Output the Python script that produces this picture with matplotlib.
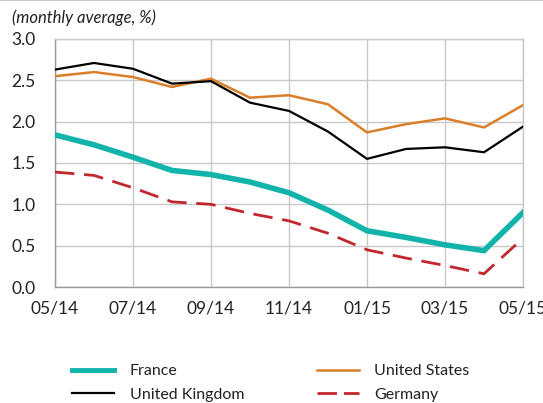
import matplotlib.pyplot as plt
from matplotlib.lines import Line2D

plt.rcParams['font.family'] = ['Lato', 'DejaVu Sans']

# monthly averages, 05/14 .. 05/15
months = ['05/14', '06/14', '07/14', '08/14', '09/14', '10/14', '11/14',
          '12/14', '01/15', '02/15', '03/15', '04/15', '05/15']
france = [1.84, 1.72, 1.57, 1.41, 1.36, 1.27, 1.14, 0.93, 0.68, 0.60, 0.51, 0.44, 0.90]
germany = [1.39, 1.35, 1.20, 1.03, 1.00, 0.89, 0.80, 0.65, 0.45, 0.35, 0.26, 0.16, 0.59]
uk = [2.63, 2.71, 2.64, 2.46, 2.49, 2.23, 2.13, 1.88, 1.55, 1.67, 1.69, 1.63, 1.94]
us = [2.55, 2.60, 2.54, 2.42, 2.52, 2.29, 2.32, 2.21, 1.87, 1.97, 2.04, 1.93, 2.20]
y_ticks = [0.0, 0.5, 1.0, 1.5, 2.0, 2.5, 3.0]

teal = '#12b3ab'
orange = '#d97f2a'
red = '#c1272d'
grid_col = '#c8c8c8'

fig = plt.figure(figsize=(5.43, 4.03), dpi=100)
ax = fig.add_axes([55 / 543, 1 - 287 / 403, 468 / 543, 248 / 403])

x = list(range(len(months)))
ax.plot(x, germany, color=red, lw=2.0, dashes=(7, 3.5), zorder=3)
ax.plot(x, us, color=orange, lw=1.8, zorder=3)
ax.plot(x, uk, color='black', lw=1.6, zorder=3)
ax.plot(x, france, color=teal, lw=4.0, zorder=4, solid_joinstyle='miter')

ax.set_xlim(0, len(months) - 1)
ax.set_ylim(0, 3.0)
ax.set_xticks(x[::2])
ax.set_xticklabels(months[::2])
ax.set_yticks(y_ticks)
ax.set_yticklabels(['%.1f' % v for v in y_ticks])
ax.grid(True, color=grid_col, lw=1.0)
ax.set_axisbelow(True)
for s in ax.spines.values():
    s.set_color(grid_col)
    s.set_linewidth(1.0)
ax.spines['left'].set_color('#999999')
ax.spines['bottom'].set_color('#999999')
ax.tick_params(length=0, labelsize=12.5, colors='#222222', pad=10)
ax.tick_params(axis='y', pad=14)

fig.text(12 / 543, 1 - 18 / 403, '(monthly average, %)', style='italic',
         fontsize=12, color='#222222', va='center')

# thin rule along the top of the figure
fig.add_artist(Line2D([0, 1], [0.999, 0.999], color='#bbbbbb', lw=1.2))

# legend in two separate columns
leg_kw = dict(frameon=False, loc='upper left', fontsize=11.5, handlelength=2.6,
              labelspacing=0.6, handletextpad=1.0, borderpad=0,
              borderaxespad=0, labelcolor='#222222')
left_h = [Line2D([], [], color=teal, lw=3.5), Line2D([], [], color='black', lw=1.6)]
right_h = [Line2D([], [], color=orange, lw=1.8),
           Line2D([], [], color=red, lw=2.0, dashes=(7, 2.5))]
fig.legend(left_h, ['France', 'United Kingdom'],
           bbox_to_anchor=(72 / 543, 1 - 364 / 403), **leg_kw)
fig.legend(right_h, ['United States', 'Germany'],
           bbox_to_anchor=(317 / 543, 1 - 364 / 403), **leg_kw)

fig.savefig('out.png', dpi=100)
